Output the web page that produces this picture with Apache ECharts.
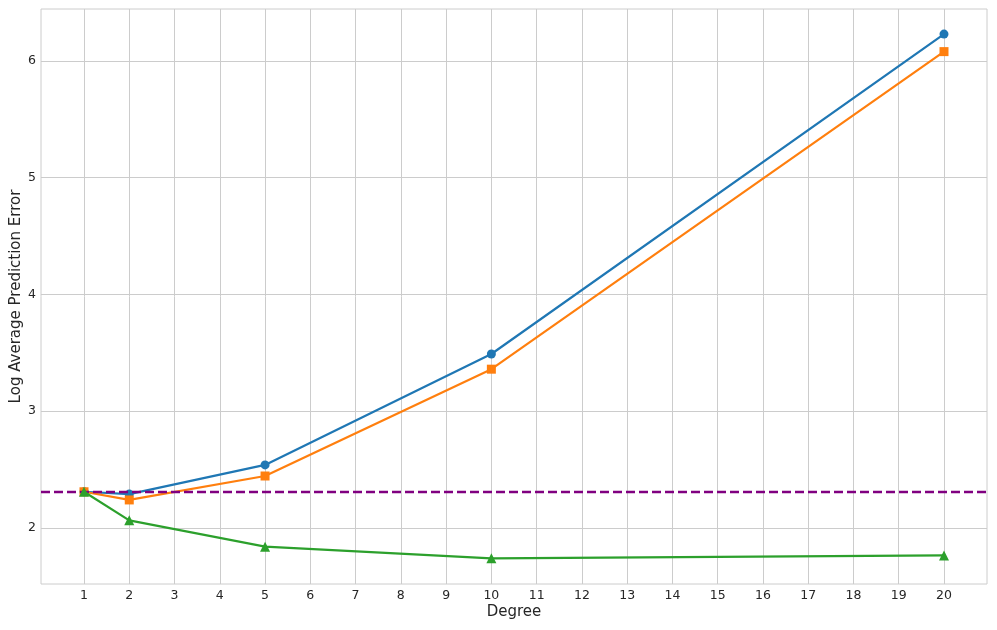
<!DOCTYPE html>
<html>
<head>
<meta charset="utf-8">
<script src="https://cdn.jsdelivr.net/npm/echarts@6/dist/echarts.min.js"></script>
<style>
  html, body { margin: 0; padding: 0; background: #fff; }
  #chart { width: 997px; height: 630px; }
</style>
</head>
<body>
<div id="chart"></div>
<script>
// degrees tested
var degrees = [1, 2, 5, 10, 20];
// log average prediction error per method
var blueErr = [2.31, 2.29, 2.54, 3.49, 6.23];
var orangeErr = [2.31, 2.24, 2.445, 3.36, 6.08];
var greenErr = [2.31, 2.065, 1.84, 1.74, 1.765];
var baseline = 2.315;
// tick labels
var xTicks = [1, 2, 3, 4, 5, 6, 7, 8, 9, 10, 11, 12, 13, 14, 15, 16, 17, 18, 19, 20];
var yTicks = [2, 3, 4, 5, 6];

function pairs(ys) {
  return degrees.map(function (d, i) { return [d, ys[i]]; });
}

var chart = echarts.init(document.getElementById('chart'));
var axisText = { color: '#262626', fontSize: 12.5, fontFamily: 'DejaVu Sans' };
var nameText = { color: '#262626', fontSize: 15, fontFamily: 'DejaVu Sans' };

chart.setOption({
  animation: false,
  grid: {
    left: 41, right: 10, top: 9, bottom: 46, containLabel: false, outerBoundsMode: 'none',
    show: true, borderColor: '#cccccc', borderWidth: 1
  },
  xAxis: {
    type: 'value', min: 0.05, max: 20.95,
    name: 'Degree', nameLocation: 'middle', nameGap: 21, nameMoveOverlap: false, nameTextStyle: nameText,
    axisLine: { show: false },
    axisTick: { show: false, customValues: xTicks },
    axisLabel: Object.assign({ margin: 5, customValues: xTicks }, axisText),
    splitLine: { show: true, lineStyle: { color: '#cccccc', width: 1 } }
  },
  yAxis: {
    type: 'value', min: 1.52, max: 6.445,
    name: 'Log Average Prediction Error', nameLocation: 'middle', nameGap: 17, nameMoveOverlap: false, nameTextStyle: nameText,
    axisLine: { show: false },
    axisTick: { show: false, customValues: yTicks },
    axisLabel: Object.assign({ margin: 5, customValues: yTicks }, axisText),
    splitLine: { show: true, lineStyle: { color: '#cccccc', width: 1 } }
  },
  series: [
    {
      type: 'line', data: pairs(blueErr), symbol: 'circle', symbolSize: 9,
      lineStyle: { color: '#1f77b4', width: 2.2 }, itemStyle: { color: '#1f77b4' }, z: 3
    },
    {
      type: 'line', data: pairs(orangeErr), symbol: 'rect', symbolSize: 9,
      lineStyle: { color: '#ff7f0e', width: 2.2 }, itemStyle: { color: '#ff7f0e' }, z: 4
    },
    {
      type: 'line', data: pairs(greenErr), symbol: 'triangle', symbolSize: 10,
      lineStyle: { color: '#2ca02c', width: 2.2 }, itemStyle: { color: '#2ca02c' }, z: 5,
      markLine: {
        silent: true, symbol: 'none', label: { show: false },
        lineStyle: { color: '#800080', width: 2.3, type: [9, 4] },
        data: [{ yAxis: baseline }]
      }
    }
  ]
});
</script>
</body>
</html>
